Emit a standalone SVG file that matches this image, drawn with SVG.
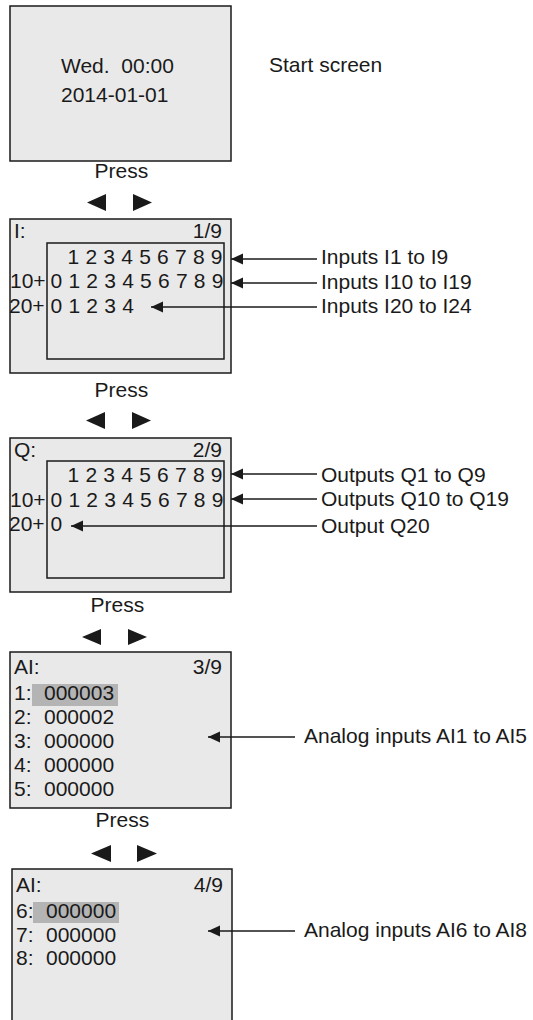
<svg xmlns="http://www.w3.org/2000/svg" width="533" height="1020" viewBox="0 0 533 1020">
<style>
  text { font-family: "Liberation Sans", Arial, sans-serif; font-size: 21px; fill: #1a1a1a; }
  .screen { fill: #e9e9e9; stroke: #1a1a1a; stroke-width: 1.5; }
  .inner { fill: none; stroke: #1a1a1a; stroke-width: 1.5; }
  .hl { fill: #b4b4b4; }
  .tri { fill: #1a1a1a; }
  .digits { word-spacing: 0.4px; }
  .conn { stroke: #1a1a1a; stroke-width: 1.5; fill: none; marker-end: url(#ah); }
</style>
<defs>
  <marker id="ah" markerUnits="userSpaceOnUse" markerWidth="13" markerHeight="12" refX="12" refY="6" orient="auto">
    <path d="M0,0.5 L12,6 L0,11.5 z" fill="#1a1a1a"/>
  </marker>
</defs>
<rect width="533" height="1020" fill="#ffffff"/>

<g id="start-screen">
  <rect class="screen" x="10" y="6" width="221" height="155"/>
  <text x="61" y="73" xml:space="preserve">Wed.  00:00</text>
  <text x="61" y="102">2014-01-01</text>
</g>
<g id="start-label">
  <text x="269" y="72">Start screen</text>
</g>

<g id="press-1">
  <text x="94.5" y="178">Press</text>
  <polygon class="tri" points="87,202.5 106,194 106,211"/>
  <polygon class="tri" points="133,194 133,211 152,202.5"/>
</g>

<g id="screen-inputs">
  <rect class="screen" x="10" y="219" width="221" height="154"/>
  <rect class="inner" x="47" y="243" width="177" height="116"/>
  <text x="14" y="238">I:</text>
  <text x="222" y="238" text-anchor="end">1/9</text>
  <text class="digits" x="67.5" y="264">1 2 3 4 5 6 7 8 9</text>
  <text x="10" y="288">10+</text>
  <text class="digits" x="50.5" y="288">0 1 2 3 4 5 6 7 8 9</text>
  <text x="9" y="313">20+</text>
  <text class="digits" x="50.5" y="313">0 1 2 3 4</text>
</g>
<g id="labels-inputs">
  <text x="321" y="264">Inputs I1 to I9</text>
  <text x="321" y="289">Inputs I10 to I19</text>
  <text x="321" y="313">Inputs I20 to I24</text>
</g>

<g id="press-2">
  <text x="94.5" y="397">Press</text>
  <polygon class="tri" points="86,420.5 105,412 105,429"/>
  <polygon class="tri" points="132,412 132,429 151,420.5"/>
</g>

<g id="screen-outputs">
  <rect class="screen" x="10" y="438" width="221" height="154"/>
  <rect class="inner" x="47" y="461" width="177" height="117"/>
  <text x="14" y="457">Q:</text>
  <text x="222" y="457" text-anchor="end">2/9</text>
  <text class="digits" x="67.5" y="482">1 2 3 4 5 6 7 8 9</text>
  <text x="10" y="507">10+</text>
  <text class="digits" x="50.5" y="507">0 1 2 3 4 5 6 7 8 9</text>
  <text x="9" y="531">20+</text>
  <text x="50.5" y="531">0</text>
</g>
<g id="labels-outputs">
  <text x="321" y="482">Outputs Q1 to Q9</text>
  <text x="321" y="506">Outputs Q10 to Q19</text>
  <text x="321" y="533">Output Q20</text>
</g>

<g id="press-3">
  <text x="90.5" y="612">Press</text>
  <polygon class="tri" points="82,637 101,629 101,645"/>
  <polygon class="tri" points="128,629 128,645 147,637"/>
</g>

<g id="screen-ai-1">
  <rect class="screen" x="10" y="652" width="221" height="156"/>
  <text x="14" y="674">AI:</text>
  <text x="222" y="674" text-anchor="end">3/9</text>
  <rect class="hl" x="32" y="684" width="86" height="22"/>
  <text x="14" y="700">1:</text>
  <text x="44" y="700">000003</text>
  <text x="14" y="724">2:</text>
  <text x="44" y="724">000002</text>
  <text x="14" y="748">3:</text>
  <text x="44" y="748">000000</text>
  <text x="14" y="772">4:</text>
  <text x="44" y="772">000000</text>
  <text x="14" y="796">5:</text>
  <text x="44" y="796">000000</text>
</g>
<g id="label-ai-1">
  <text x="304" y="743">Analog inputs AI1 to AI5</text>
</g>

<g id="press-4">
  <text x="95.5" y="827">Press</text>
  <polygon class="tri" points="91,853.5 111,845 111,862"/>
  <polygon class="tri" points="137,845 137,862 157,853.5"/>
</g>

<g id="screen-ai-2">
  <rect class="screen" x="12" y="869" width="220" height="170"/>
  <text x="16" y="892">AI:</text>
  <text x="223" y="892" text-anchor="end">4/9</text>
  <rect class="hl" x="33" y="902" width="86" height="21"/>
  <text x="16" y="918">6:</text>
  <text x="46" y="918">000000</text>
  <text x="16" y="942">7:</text>
  <text x="46" y="942">000000</text>
  <text x="16" y="965">8:</text>
  <text x="46" y="965">000000</text>
</g>
<g id="label-ai-2">
  <text x="304" y="937">Analog inputs AI6 to AI8</text>
</g>

<g id="connectors">
  <line class="conn" x1="317" y1="259" x2="231" y2="259"/>
  <line class="conn" x1="317" y1="283" x2="231" y2="283"/>
  <line class="conn" x1="317" y1="307" x2="151" y2="307"/>
  <line class="conn" x1="317" y1="474" x2="231" y2="474"/>
  <line class="conn" x1="317" y1="499" x2="231" y2="499"/>
  <line class="conn" x1="317" y1="526" x2="71" y2="526"/>
  <line class="conn" x1="295" y1="737" x2="208" y2="737"/>
  <line class="conn" x1="295" y1="931" x2="208" y2="931"/>
</g>
</svg>
